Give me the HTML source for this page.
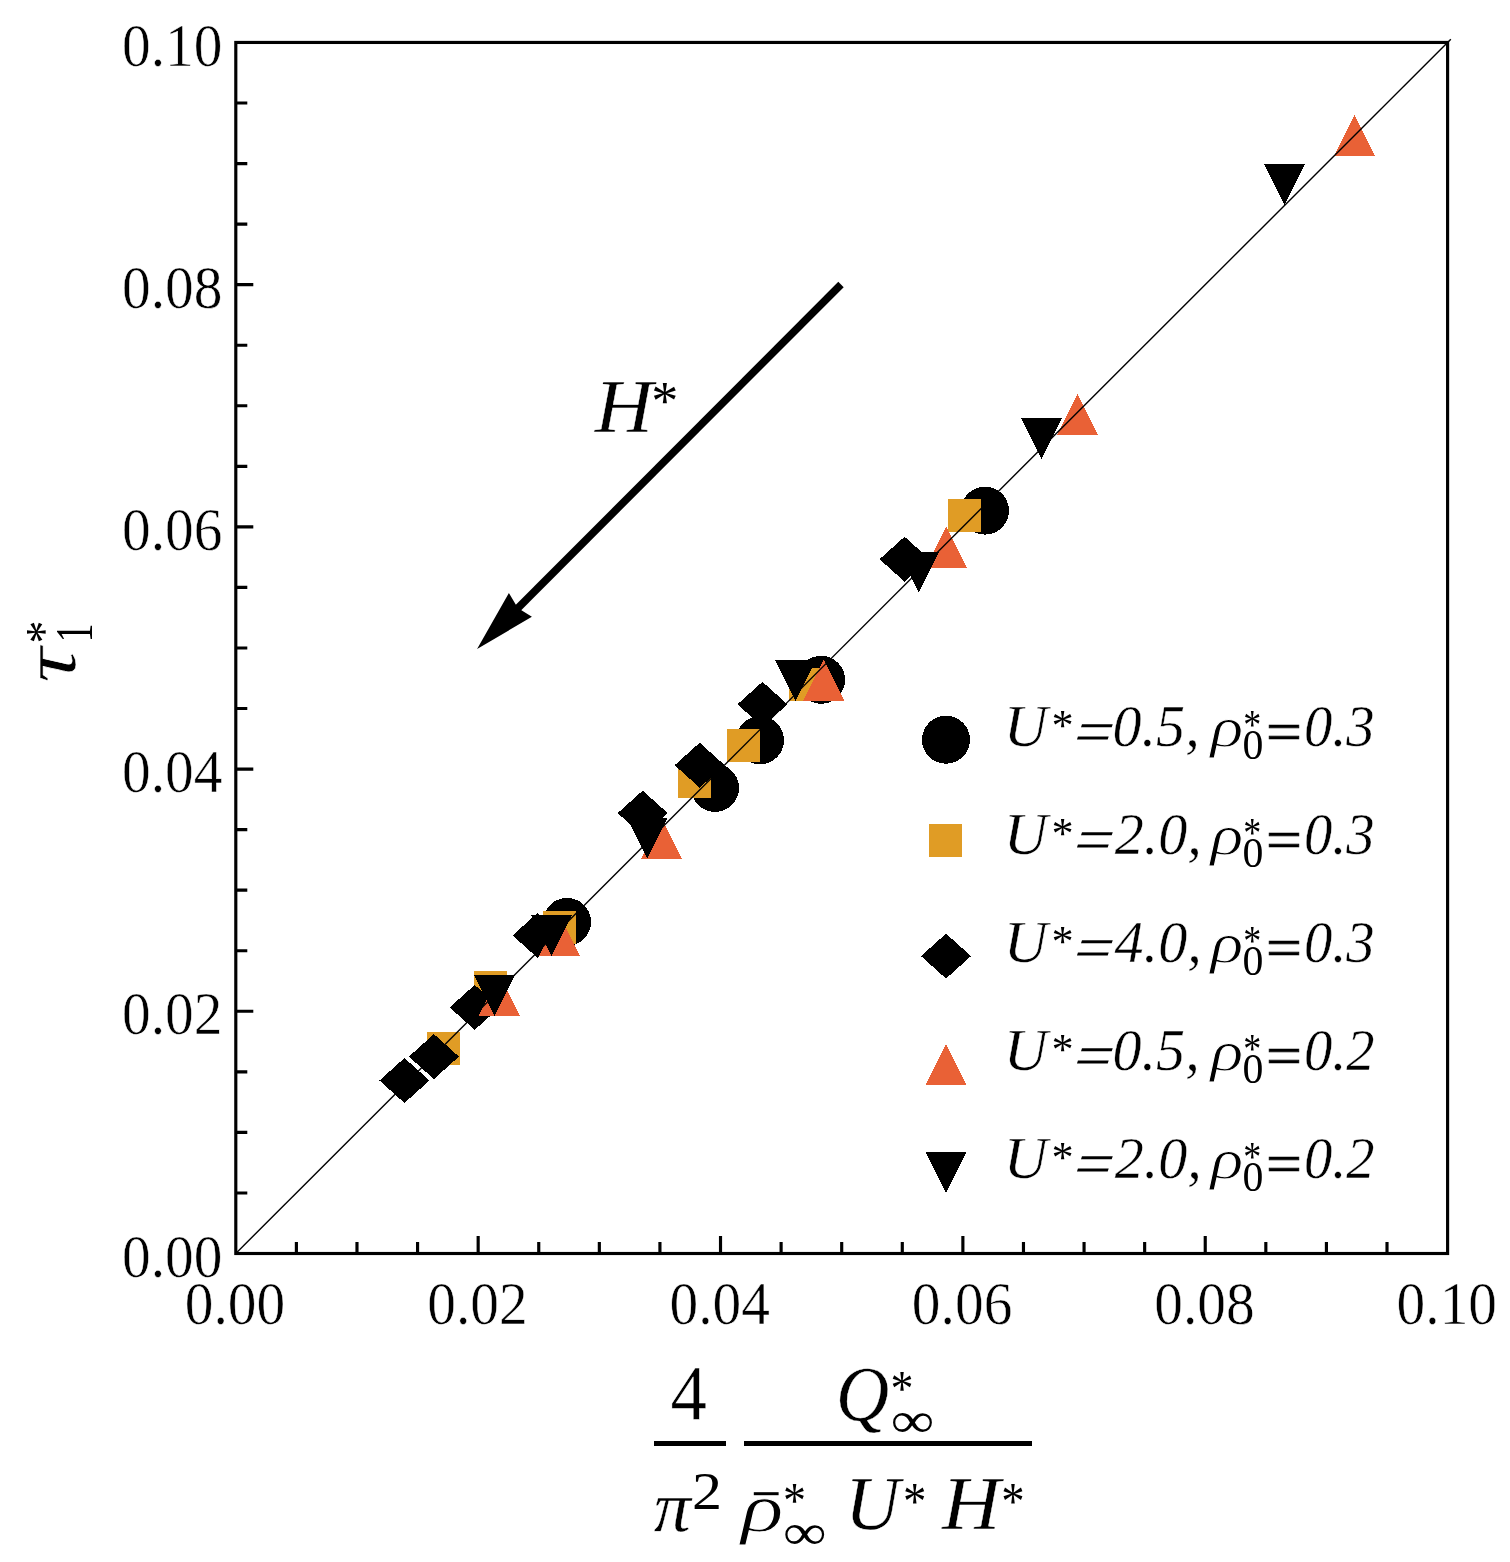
<!DOCTYPE html>
<html lang="en"><head><meta charset="utf-8"><title>tau1* vs 4/pi^2 Q/(rho U H)</title>
<style>
html,body{margin:0;padding:0;background:#fff;}
body{width:1510px;height:1562px;overflow:hidden;}
svg{display:block;}
text{font-family:"Liberation Serif",serif;fill:#000;}
.tk{font-size:58px;stroke:#fff;stroke-width:0.5px;}
.it{font-style:italic;}
</style></head><body>
<svg width="1510" height="1562" viewBox="0 0 1510 1562">
<rect width="1510" height="1562" fill="#fff"/>

<g id="markers" shape-rendering="crispEdges">
<circle cx="567.0" cy="921.9" r="24.0" fill="#000"/>
<circle cx="715.0" cy="787.9" r="24.0" fill="#000"/>
<circle cx="760.0" cy="740.3" r="24.0" fill="#000"/>
<circle cx="821.1" cy="679.8" r="24.0" fill="#000"/>
<circle cx="985.0" cy="510.6" r="24.0" fill="#000"/>
<rect x="427.1" y="1031.8" width="33.0" height="33.0" fill="#E09C25"/>
<rect x="474.1" y="971.0" width="33.0" height="33.0" fill="#E09C25"/>
<rect x="543.1" y="911.0" width="33.0" height="33.0" fill="#E09C25"/>
<rect x="678.0" y="765.1" width="33.0" height="33.0" fill="#E09C25"/>
<rect x="727.0" y="728.9" width="33.0" height="33.0" fill="#E09C25"/>
<rect x="789.3" y="668.1" width="33.0" height="33.0" fill="#E09C25"/>
<rect x="948.1" y="499.0" width="33.0" height="33.0" fill="#E09C25"/>
<polygon points="379.5,1080.5 404.5,1058.0 429.5,1080.5 404.5,1103.0" fill="#000"/>
<polygon points="408.9,1056.6 433.9,1034.1 458.9,1056.6 433.9,1079.1" fill="#000"/>
<polygon points="449.7,1007.4 474.7,984.9 499.7,1007.4 474.7,1029.9" fill="#000"/>
<polygon points="512.6,935.4 537.6,912.9 562.6,935.4 537.6,957.9" fill="#000"/>
<polygon points="617.7,813.1 642.7,790.6 667.7,813.1 642.7,835.6" fill="#000"/>
<polygon points="674.7,765.2 699.7,742.7 724.7,765.2 699.7,787.7" fill="#000"/>
<polygon points="737.5,704.3 762.5,681.8 787.5,704.3 762.5,726.8" fill="#000"/>
<polygon points="879.6,559.2 904.6,536.7 929.6,559.2 904.6,581.7" fill="#000"/>
<polygon points="478.8,1015.9 519.8,1015.9 499.3,974.9" fill="#E96136"/>
<polygon points="539.1,956.0 580.1,956.0 559.6,915.0" fill="#E96136"/>
<polygon points="640.9,858.8 681.9,858.8 661.4,817.8" fill="#E96136"/>
<polygon points="803.1,700.7 844.1,700.7 823.6,659.7" fill="#E96136"/>
<polygon points="925.9,567.7 966.9,567.7 946.4,526.7" fill="#E96136"/>
<polygon points="1057.0,435.0 1098.0,435.0 1077.5,394.0" fill="#E96136"/>
<polygon points="1334.1,155.9 1375.1,155.9 1354.6,114.9" fill="#E96136"/>
<polygon points="473.9,974.9 514.9,974.9 494.4,1015.9" fill="#000"/>
<polygon points="531.0,915.1 572.0,915.1 551.5,956.1" fill="#000"/>
<polygon points="626.7,817.8 667.7,817.8 647.2,858.8" fill="#000"/>
<polygon points="775.1,660.1 816.1,660.1 795.6,701.1" fill="#000"/>
<polygon points="898.3,551.6 939.3,551.6 918.8,592.6" fill="#000"/>
<polygon points="1021.1,418.1 1062.1,418.1 1041.6,459.1" fill="#000"/>
<polygon points="1264.0,164.1 1305.0,164.1 1284.5,205.1" fill="#000"/>
</g>
<line x1="235.8" y1="1253.5" x2="1450.8" y2="39.25" stroke="#000" stroke-width="1.4"/>
<rect x="235.8" y="42.45" width="1211.8" height="1211.05" fill="none" stroke="#000" stroke-width="3.15"/>
<path d="M296.39 1253.5 v-11.5 M235.8 1192.95 h11.5 M356.98 1253.5 v-11.5 M235.8 1132.39 h11.5 M417.57 1253.5 v-11.5 M235.8 1071.84 h11.5 M478.16 1253.5 v-17.5 M235.8 1011.29 h17.5 M538.75 1253.5 v-11.5 M235.8 950.74 h11.5 M599.34 1253.5 v-11.5 M235.8 890.19 h11.5 M659.93 1253.5 v-11.5 M235.8 829.63 h11.5 M720.52 1253.5 v-17.5 M235.8 769.08 h17.5 M781.11 1253.5 v-11.5 M235.8 708.53 h11.5 M841.70 1253.5 v-11.5 M235.8 647.98 h11.5 M902.29 1253.5 v-11.5 M235.8 587.42 h11.5 M962.88 1253.5 v-17.5 M235.8 526.87 h17.5 M1023.47 1253.5 v-11.5 M235.8 466.32 h11.5 M1084.06 1253.5 v-11.5 M235.8 405.77 h11.5 M1144.65 1253.5 v-11.5 M235.8 345.21 h11.5 M1205.24 1253.5 v-17.5 M235.8 284.66 h17.5 M1265.83 1253.5 v-11.5 M235.8 224.11 h11.5 M1326.42 1253.5 v-11.5 M235.8 163.56 h11.5 M1387.01 1253.5 v-11.5 M235.8 103.00 h11.5" stroke="#000" stroke-width="3.15" fill="none"/>
<text class="tk" transform="translate(235.0,1323.8) scale(0.99,1.055)" text-anchor="middle">0.00</text>
<text class="tk" transform="translate(222.5,1276.5) scale(0.99,1.055)" text-anchor="end">0.00</text>
<text class="tk" transform="translate(477.4,1323.8) scale(0.99,1.055)" text-anchor="middle">0.02</text>
<text class="tk" transform="translate(222.5,1034.3) scale(0.99,1.055)" text-anchor="end">0.02</text>
<text class="tk" transform="translate(719.7,1323.8) scale(0.99,1.055)" text-anchor="middle">0.04</text>
<text class="tk" transform="translate(222.5,792.1) scale(0.99,1.055)" text-anchor="end">0.04</text>
<text class="tk" transform="translate(962.1,1323.8) scale(0.99,1.055)" text-anchor="middle">0.06</text>
<text class="tk" transform="translate(222.5,549.9) scale(0.99,1.055)" text-anchor="end">0.06</text>
<text class="tk" transform="translate(1204.4,1323.8) scale(0.99,1.055)" text-anchor="middle">0.08</text>
<text class="tk" transform="translate(222.5,307.7) scale(0.99,1.055)" text-anchor="end">0.08</text>
<text class="tk" transform="translate(1446.8,1323.8) scale(0.99,1.055)" text-anchor="middle">0.10</text>
<text class="tk" transform="translate(222.5,65.5) scale(0.99,1.055)" text-anchor="end">0.10</text>
<line x1="841.0" y1="284.5" x2="515" y2="611" stroke="#000" stroke-width="7.6"/>
<polygon points="477.1,648.9 508.9,593 517.8,608.1 531.9,616.8" fill="#000"/>
<text class="it" stroke="#fff" stroke-width="0.4" font-size="75.4" transform="translate(594.71,431.90) scale(1.07,1.0)">H</text>
<text class="it" font-size="54" transform="translate(648.63,419.20) scale(1.0,1.0)">*</text>
<g shape-rendering="crispEdges">
<circle cx="946.0" cy="739.7" r="24.0" fill="#000"/>
<rect x="929.1" y="824.0" width="33.0" height="33.0" fill="#E09C25"/>
<polygon points="921.0,956.1 946.0,933.6 971.0,956.1 946.0,978.6" fill="#000"/>
<polygon points="925.5,1084.9 966.5,1084.9 946.0,1043.9" fill="#E96136"/>
<polygon points="925.5,1151.9 966.5,1151.9 946.0,1192.9" fill="#000"/>
</g>
<text class="it" stroke="#fff" stroke-width="0.4" font-size="59" transform="translate(1003.68,746.40) scale(1.03,1.0)">U</text>
<text class="it" font-size="44" transform="translate(1049.51,739.80) scale(1.0,1.0)">*</text>
<text class="it" font-size="59" transform="translate(1065.20,751.80) scale(1.12,1.03) skewX(-17)">=</text>
<text class="it" stroke="#fff" stroke-width="0.4" font-size="59" transform="translate(1112.52,746.40) scale(0.985,1.0)">0.5,</text>
<text class="it" stroke="#fff" stroke-width="0.9" font-size="56" transform="translate(1210.51,746.40) scale(1.22,1.0)">ρ</text>
<text font-size="40" transform="translate(1243.30,739.40) scale(0.9,1.03)">*</text>
<text font-size="41" transform="translate(1242.53,758.50) scale(1.02,1.02)">0</text>
<text stroke="#000" stroke-width="0.7" font-size="59" transform="translate(1266.11,750.60) scale(1.08,0.975)">=</text>
<text class="it" stroke="#fff" stroke-width="0.4" font-size="59" transform="translate(1303.88,746.40) scale(0.96,1.0)">0.3</text>
<text class="it" stroke="#fff" stroke-width="0.4" font-size="59" transform="translate(1003.68,854.40) scale(1.03,1.0)">U</text>
<text class="it" font-size="44" transform="translate(1049.51,847.80) scale(1.0,1.0)">*</text>
<text class="it" font-size="59" transform="translate(1065.20,859.80) scale(1.12,1.03) skewX(-17)">=</text>
<text class="it" stroke="#fff" stroke-width="0.4" font-size="59" transform="translate(1114.70,854.40) scale(0.985,1.0)">2.0,</text>
<text class="it" stroke="#fff" stroke-width="0.9" font-size="56" transform="translate(1210.51,854.40) scale(1.22,1.0)">ρ</text>
<text font-size="40" transform="translate(1243.30,847.40) scale(0.9,1.03)">*</text>
<text font-size="41" transform="translate(1242.53,866.50) scale(1.02,1.02)">0</text>
<text stroke="#000" stroke-width="0.7" font-size="59" transform="translate(1266.11,858.60) scale(1.08,0.975)">=</text>
<text class="it" stroke="#fff" stroke-width="0.4" font-size="59" transform="translate(1303.88,854.40) scale(0.96,1.0)">0.3</text>
<text class="it" stroke="#fff" stroke-width="0.4" font-size="59" transform="translate(1003.68,962.40) scale(1.03,1.0)">U</text>
<text class="it" font-size="44" transform="translate(1049.51,955.80) scale(1.0,1.0)">*</text>
<text class="it" font-size="59" transform="translate(1065.20,967.80) scale(1.12,1.03) skewX(-17)">=</text>
<text class="it" stroke="#fff" stroke-width="0.4" font-size="59" transform="translate(1114.55,962.40) scale(0.985,1.0)">4.0,</text>
<text class="it" stroke="#fff" stroke-width="0.9" font-size="56" transform="translate(1210.51,962.40) scale(1.22,1.0)">ρ</text>
<text font-size="40" transform="translate(1243.30,955.40) scale(0.9,1.03)">*</text>
<text font-size="41" transform="translate(1242.53,974.50) scale(1.02,1.02)">0</text>
<text stroke="#000" stroke-width="0.7" font-size="59" transform="translate(1266.11,966.60) scale(1.08,0.975)">=</text>
<text class="it" stroke="#fff" stroke-width="0.4" font-size="59" transform="translate(1303.88,962.40) scale(0.96,1.0)">0.3</text>
<text class="it" stroke="#fff" stroke-width="0.4" font-size="59" transform="translate(1003.68,1070.40) scale(1.03,1.0)">U</text>
<text class="it" font-size="44" transform="translate(1049.51,1063.80) scale(1.0,1.0)">*</text>
<text class="it" font-size="59" transform="translate(1065.20,1075.80) scale(1.12,1.03) skewX(-17)">=</text>
<text class="it" stroke="#fff" stroke-width="0.4" font-size="59" transform="translate(1112.52,1070.40) scale(0.985,1.0)">0.5,</text>
<text class="it" stroke="#fff" stroke-width="0.9" font-size="56" transform="translate(1210.51,1070.40) scale(1.22,1.0)">ρ</text>
<text font-size="40" transform="translate(1243.30,1063.40) scale(0.9,1.03)">*</text>
<text font-size="41" transform="translate(1242.53,1082.50) scale(1.02,1.02)">0</text>
<text stroke="#000" stroke-width="0.7" font-size="59" transform="translate(1266.11,1074.60) scale(1.08,0.975)">=</text>
<text class="it" stroke="#fff" stroke-width="0.4" font-size="59" transform="translate(1303.88,1070.40) scale(0.96,1.0)">0.2</text>
<text class="it" stroke="#fff" stroke-width="0.4" font-size="59" transform="translate(1003.68,1178.40) scale(1.03,1.0)">U</text>
<text class="it" font-size="44" transform="translate(1049.51,1171.80) scale(1.0,1.0)">*</text>
<text class="it" font-size="59" transform="translate(1065.20,1183.80) scale(1.12,1.03) skewX(-17)">=</text>
<text class="it" stroke="#fff" stroke-width="0.4" font-size="59" transform="translate(1114.70,1178.40) scale(0.985,1.0)">2.0,</text>
<text class="it" stroke="#fff" stroke-width="0.9" font-size="56" transform="translate(1210.51,1178.40) scale(1.22,1.0)">ρ</text>
<text font-size="40" transform="translate(1243.30,1171.40) scale(0.9,1.03)">*</text>
<text font-size="41" transform="translate(1242.53,1190.50) scale(1.02,1.02)">0</text>
<text stroke="#000" stroke-width="0.7" font-size="59" transform="translate(1266.11,1182.60) scale(1.08,0.975)">=</text>
<text class="it" stroke="#fff" stroke-width="0.4" font-size="59" transform="translate(1303.88,1178.40) scale(0.96,1.0)">0.2</text>
<text class="it" stroke="#fff" stroke-width="0.6" font-size="76.5" transform="translate(75.30,683.02) rotate(-90) scale(1.29,1.0)">τ</text>
<text font-size="50" transform="translate(59.75,643.40) rotate(-90) scale(0.92,1.0)">*</text>
<text font-size="50" transform="translate(92.00,642.18) rotate(-90) scale(0.75,1.055)">1</text>
<rect x="654" y="1441" width="72" height="5" fill="#000"/>
<rect x="744" y="1441" width="288" height="5" fill="#000"/>
<text stroke="#fff" stroke-width="0.4" font-size="74" transform="translate(670.54,1419.40) scale(0.985,1.06)">4</text>
<text class="it" stroke="#fff" stroke-width="0.4" font-size="74" transform="translate(653.63,1531.30) scale(1.0,0.97)">π</text>
<text font-size="50" transform="translate(692.10,1509.00) scale(1.2,1.035)">2</text>
<text class="it" stroke="#fff" stroke-width="0.4" font-size="76" transform="translate(835.72,1419.50) scale(0.975,1.04)">Q</text>
<text font-size="50" transform="translate(890.50,1405.25) scale(0.92,1.0)">*</text>
<text font-size="50" transform="translate(890.81,1437.30) scale(1.22,1.0)">∞</text>
<text class="it" stroke="#fff" stroke-width="1.0" font-size="71.5" transform="translate(741.02,1530.60) scale(1.24,0.95)">ρ</text>
<rect x="753.8" y="1492.2" width="24.8" height="3" fill="#000"/>
<text font-size="50" transform="translate(782.90,1516.95) scale(0.92,1.0)">*</text>
<text font-size="50" transform="translate(782.91,1549.00) scale(1.22,1.0)">∞</text>
<text class="it" stroke="#fff" stroke-width="0.4" font-size="76" transform="translate(844.97,1529.00) scale(1.0,1.0)">U</text>
<text font-size="52" transform="translate(902.96,1519.46) scale(0.9,1.0)">*</text>
<text class="it" stroke="#fff" stroke-width="0.4" font-size="75.6" transform="translate(941.91,1529.00) scale(1.07,1.0)">H</text>
<text font-size="52" transform="translate(1001.26,1519.46) scale(0.9,1.0)">*</text>
</svg></body></html>
